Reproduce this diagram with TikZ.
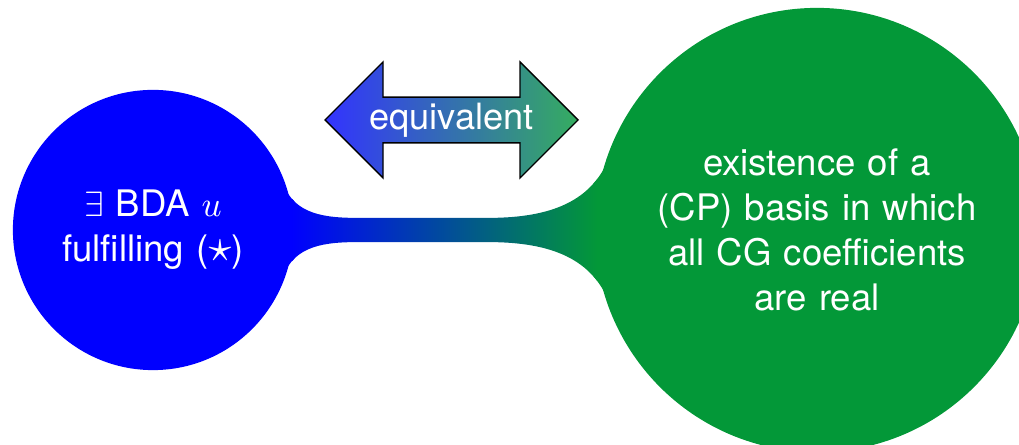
\documentclass[tikz,border=0pt]{standalone}
\usepackage{fontspec}
\setsansfont{TeX Gyre Heros}
\usetikzlibrary{mindmap,shapes.arrows}
\definecolor{cpgreen}{RGB}{3,152,56}

\begin{document}
\begin{tikzpicture}
\tikzset{bubble/.style = {concept, align=center, inner sep=0pt,
  font=\sffamily\fontsize{10.4}{12.8}\selectfont}}
\tikzset{equiv/.style = {double arrow, draw=black, left color=blue!80,
  right color=cpgreen!80, text=white, minimum height=2.53cm,
  minimum width=1.16cm, double arrow head extend=0.275cm,
  inner xsep=-0.13cm, inner ysep=0pt, font=\sffamily\fontsize{10.3}{12.4}\selectfont}}
\useasboundingbox (0,0) rectangle (10.19,4.45);
\begin{scope}[mindmap, text=white]
% concepts
\node[bubble, concept color=blue, text width=1.9cm, minimum size=2.76cm] (bda)
  at (1.53,2.15) {$\exists$ BDA $u$\\ fulfilling (\scalebox{1.3}{$\star$})};
\node[bubble, concept color=cpgreen, text width=3.2cm, minimum size=4.4cm] (cpb)
  at (8.17,2.15)
  {existence of a\\ (CP) basis in which\\ all CG coefficients\\ are real};
% bar
\path (bda) to[circle connection bar switch color=from (blue) to (cpgreen),
  line width=0.25cm] (cpb);
\end{scope}
% arrow
\node[equiv] (eq) at (4.515,3.25) {equivalent};
\end{tikzpicture}
\end{document}
